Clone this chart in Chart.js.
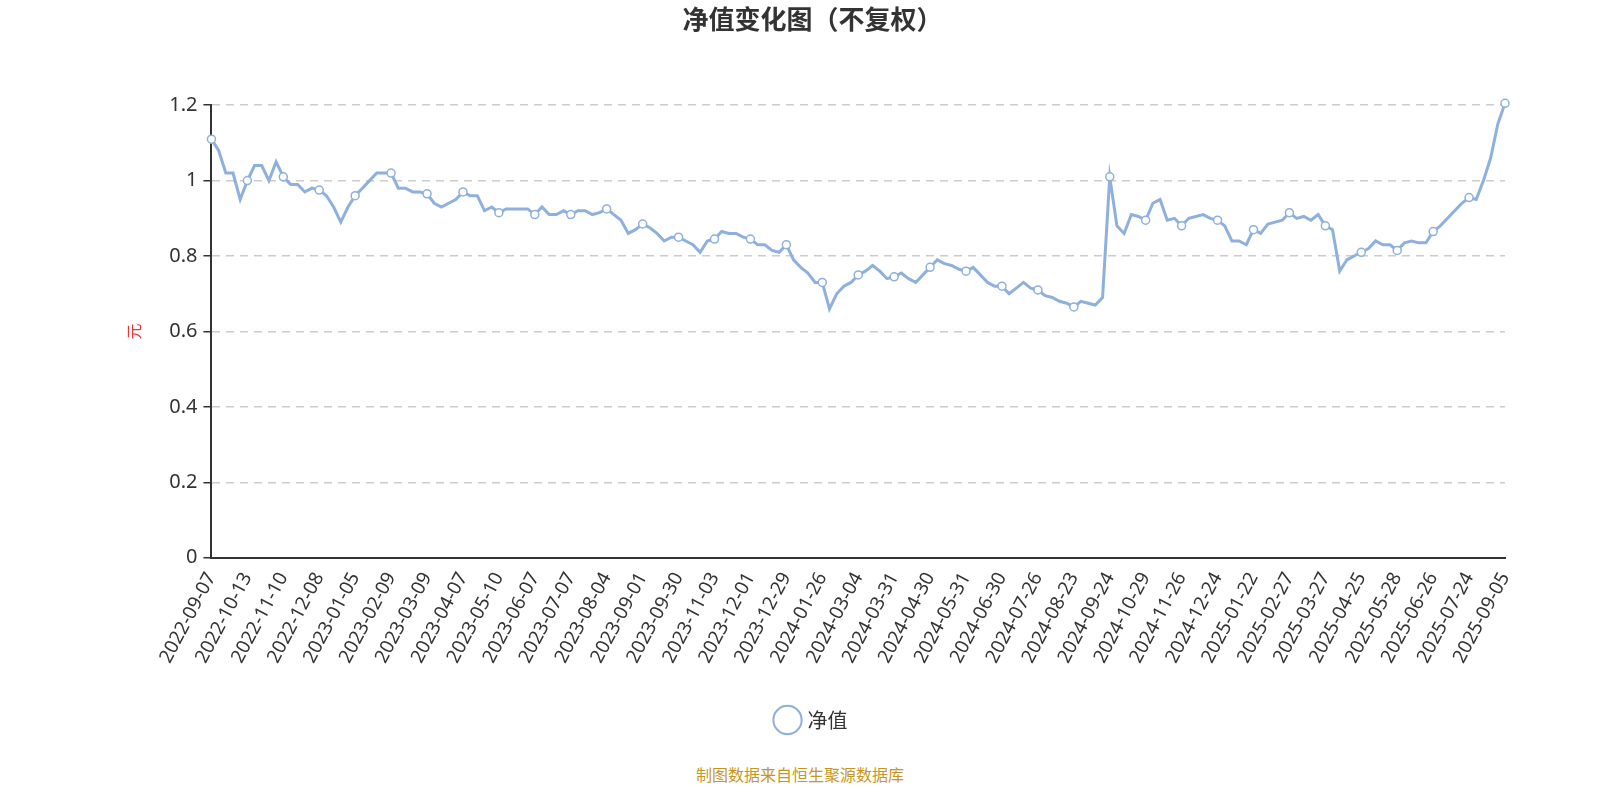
<!DOCTYPE html>
<html><head><meta charset="utf-8">
<script src="https://cdn.jsdelivr.net/npm/chart.js@4"></script>
<style>
body{margin:0;background:#fff;font-family:"Noto Sans CJK SC","Noto Sans",sans-serif;}
#wrap{position:absolute;left:0;top:0;width:1600px;height:750px;}
#src{position:absolute;top:762px;width:1600px;text-align:center;color:#c8961e;font-size:16px;}
</style></head><body>
<div id="wrap"><canvas id="c" width="1600" height="750"></canvas></div>
<div id="src">制图数据来自恒生聚源数据库</div>
<script>
const tickLabels=["2022-09-07","2022-10-13","2022-11-10","2022-12-08","2023-01-05","2023-02-09","2023-03-09","2023-04-07","2023-05-10","2023-06-07","2023-07-07","2023-08-04","2023-09-01","2023-09-30","2023-11-03","2023-12-01","2023-12-29","2024-01-26","2024-03-04","2024-03-31","2024-04-30","2024-05-31","2024-06-30","2024-07-26","2024-08-23","2024-09-24","2024-10-29","2024-11-26","2024-12-24","2025-01-22","2025-02-27","2025-03-27","2025-04-25","2025-05-28","2025-06-26","2025-07-24","2025-09-05"];
const navValues=[
1.11,1.08,1.02,1.02,0.95,
1.00,1.04,1.04,1.00,1.05,
1.01,0.99,0.99,0.97,0.98,
0.975,0.96,0.93,0.89,0.93,
0.96,0.98,1.00,1.02,1.02,
1.02,0.98,0.98,0.97,0.97,
0.965,0.94,0.93,0.94,0.95,
0.97,0.96,0.96,0.92,0.93,
0.915,0.925,0.925,0.925,0.925,
0.91,0.93,0.91,0.91,0.92,
0.91,0.92,0.92,0.91,0.915,
0.925,0.91,0.895,0.86,0.87,
0.885,0.875,0.86,0.84,0.85,
0.85,0.84,0.83,0.81,0.84,
0.845,0.865,0.86,0.86,0.85,
0.845,0.83,0.83,0.815,0.81,
0.83,0.79,0.77,0.755,0.73,
0.73,0.66,0.70,0.72,0.73,
0.75,0.76,0.775,0.76,0.74,
0.745,0.755,0.74,0.73,0.75,
0.77,0.79,0.78,0.775,0.765,
0.76,0.77,0.75,0.73,0.72,
0.72,0.70,0.715,0.73,0.715,
0.71,0.695,0.69,0.68,0.675,
0.665,0.68,0.675,0.67,0.69,
1.01,0.88,0.86,0.91,0.905,
0.895,0.94,0.95,0.895,0.90,
0.88,0.90,0.905,0.91,0.90,
0.895,0.88,0.84,0.84,0.83,
0.87,0.86,0.885,0.89,0.895,
0.915,0.90,0.905,0.895,0.91,
0.88,0.87,0.76,0.79,0.80,
0.81,0.82,0.84,0.83,0.83,
0.815,0.835,0.84,0.835,0.835,
0.865,0.88,0.90,0.92,0.94,
0.955,0.95,1.00,1.06,1.15,
1.205];
const step=5;
const labels=navValues.map((v,i)=>i%step===0?tickLabels[i/step]:'');
const blue='#8eb0dc';
new Chart(document.getElementById('c'),{
 type:'line',
 data:{labels,datasets:[{label:'净值',data:navValues,borderColor:blue,backgroundColor:'#fff',borderWidth:3,
  pointRadius:ctx=>ctx.dataIndex%step===0?4:0,pointBorderWidth:1.5,pointBorderColor:blue,pointBackgroundColor:'#fff',pointHoverRadius:4,tension:0,clip:false}]},
 options:{responsive:false,animation:false,
  layout:{padding:{left:120,right:95,top:0,bottom:10}},
  plugins:{
   title:{display:true,text:'净值变化图（不复权）',color:'#333',font:{size:26,weight:'bold',family:'"Noto Sans CJK SC"'},padding:{top:4,bottom:70}},
   legend:{position:'bottom',labels:{usePointStyle:true,pointStyle:'circle',color:'#333',font:{size:20,family:'"Noto Sans CJK SC"'},padding:40,
     generateLabels:()=>[{text:'净值',fillStyle:'#fff',strokeStyle:blue,lineWidth:2,pointStyle:'circle',fontColor:'#333'}]}},
   tooltip:{enabled:false}},
  scales:{
   x:{grid:{display:false},border:{color:'#333',width:2},
      ticks:{autoSkip:false,maxRotation:62,minRotation:62,color:'#333',font:{size:19,family:'"Noto Sans"'},
        callback:(v,i)=>labels[i]||null}},
   y:{min:0,max:1.2,
      grid:{color:'#ccc',lineWidth:1.5,tickLength:8,tickColor:'#333'},
      border:{display:true,color:'#333',width:2,dash:[8,6]},
      ticks:{stepSize:0.2,color:'#333',font:{size:20,family:'"Noto Sans"'},padding:6,callback:v=>Math.round(v*10)/10+''},
      title:{display:true,text:'元',color:'#e33',font:{size:16,family:'"Noto Sans CJK SC"'},padding:{bottom:20}}}}
 }
});
</script></body></html>
